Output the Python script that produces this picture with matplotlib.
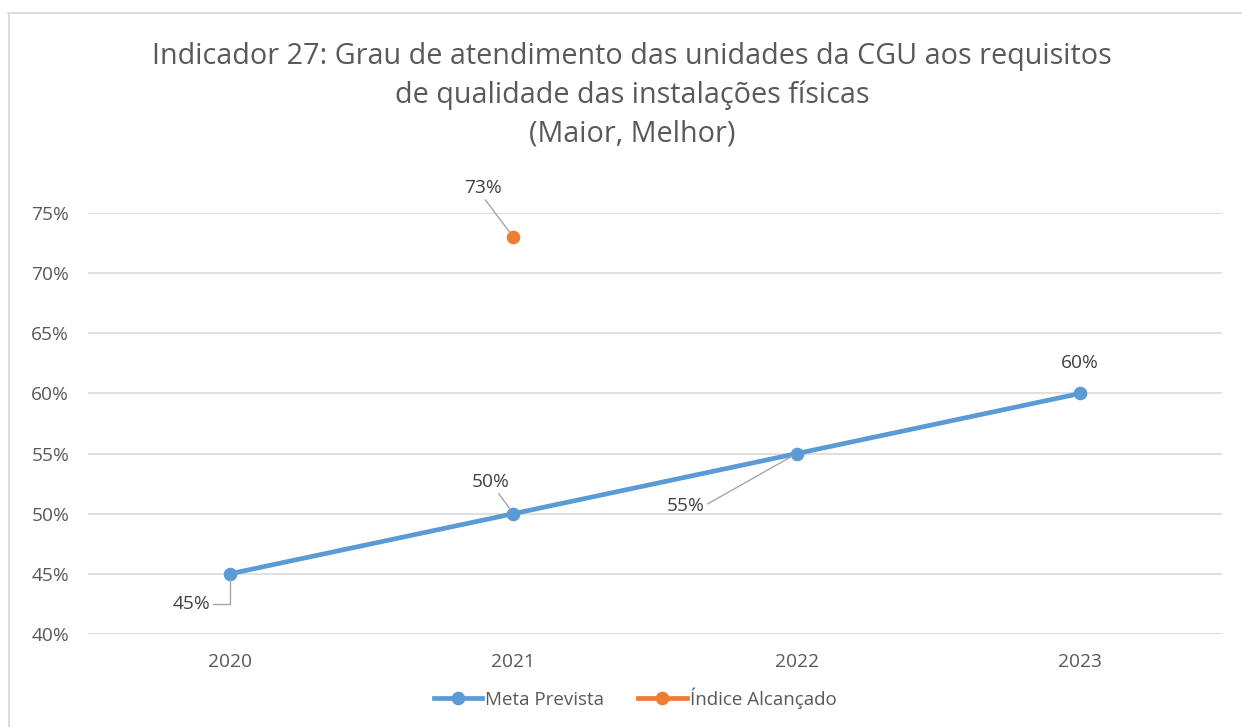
import matplotlib
matplotlib.use("Agg")
import matplotlib.pyplot as plt
from matplotlib.lines import Line2D

# dados
anos = ["2020", "2021", "2022", "2023"]
meta_prevista = [0.45, 0.50, 0.55, 0.60]
indice_ano = ["2021"]
indice_alcancado = [0.73]
y_ticks = [0.40, 0.45, 0.50, 0.55, 0.60, 0.65, 0.70, 0.75]
titulo = ("Indicador 27: Grau de atendimento das unidades da CGU aos requisitos\n"
          "de qualidade das instalações físicas\n(Maior, Melhor)")

AZUL = "#5b9bd5"
LARANJA = "#ed7d31"
CINZA_TXT = "#595959"
ROTULO = "#404040"
GRADE = "#d9d9d9"

plt.rcParams["font.family"] = ["Open Sans", "DejaVu Sans"]

W, H = 1242, 727
fig = plt.figure(figsize=(W / 100, H / 100), dpi=100)

# moldura (so borda superior e esquerda visiveis)
fig.add_artist(Line2D([8 / W, 1], [1 - 12.5 / H, 1 - 12.5 / H], color="#d9d9d9", lw=1.3))
fig.add_artist(Line2D([8.5 / W, 8.5 / W], [0, 1 - 12.5 / H], color="#d9d9d9", lw=1.3))

ax = fig.add_axes([88 / W, (H - 634) / H, (1222 - 88) / W, (634 - 213) / H])

x = [i + 0.5 for i in range(len(anos))]
ax.plot(x, meta_prevista, color=AZUL, lw=3.4, marker="o", ms=8.8, zorder=3,
        solid_capstyle="round")
xi = [anos.index(a) + 0.5 for a in indice_ano]
ax.plot(xi, indice_alcancado, color=LARANJA, lw=3.4, marker="o", ms=8.8,
        linestyle="none", zorder=3)

ax.set_xlim(0, len(anos))
ax.set_ylim(0.40, 0.75)
ax.set_xticks(x)
ax.set_xticklabels(anos)
ax.set_yticks(y_ticks)
ax.set_yticklabels([f"{v * 100:.0f}%" for v in y_ticks])
ax.grid(axis="y", color=GRADE, lw=1.2)
ax.set_axisbelow(True)
for s in ax.spines.values():
    s.set_visible(False)
ax.tick_params(length=0, labelsize=13.8, labelcolor=CINZA_TXT)
ax.tick_params(axis="x", pad=14)
ax.tick_params(axis="y", pad=13.5)

# rotulos de dados (offset em pixels)
lead = dict(arrowstyle="-", color="#a6a6a6", lw=1, shrinkA=0, shrinkB=4)
kw = dict(textcoords="offset pixels", fontsize=13.8, color=ROTULO, zorder=4)

ax.annotate("45%", (x[0], meta_prevista[0]), xytext=(-38, -30), ha="center", va="center",
            arrowprops=dict(lead, connectionstyle="angle,angleA=0,angleB=90,rad=0"), **kw)
ax.annotate("50%", (x[1], meta_prevista[1]), xytext=(-23, 32), ha="center", va="center",
            arrowprops=lead, **kw)
ax.annotate("55%", (x[2], meta_prevista[2]), xytext=(-111, -52), ha="center", va="center",
            arrowprops=dict(lead, relpos=(1.0, 0.5)), **kw)
ax.annotate("60%", (x[3], meta_prevista[3]), xytext=(0, 30), ha="center", va="center", **kw)
ax.annotate("73%", (xi[0], indice_alcancado[0]), xytext=(-30, 49), ha="center", va="center",
            arrowprops=dict(lead, relpos=(0.5, 0.0)), **kw)

fig.text(632 / W, 1 - 95.5 / H, titulo, ha="center", va="center", fontsize=20.7,
         color=CINZA_TXT, linespacing=1.42)

handles = [Line2D([], [], color=AZUL, lw=3.4, marker="o", ms=8.8),
           Line2D([], [], color=LARANJA, lw=3.4, marker="o", ms=8.8)]
fig.legend(handles, ["Meta Prevista", "Índice Alcançado"], loc="center",
           bbox_to_anchor=(635 / W, 1 - 698 / H), ncol=2, frameon=False,
           fontsize=13.5, labelcolor=CINZA_TXT, handlelength=2.6, handletextpad=0.15,
           columnspacing=1.8)

fig.savefig("out.png", dpi=100)
